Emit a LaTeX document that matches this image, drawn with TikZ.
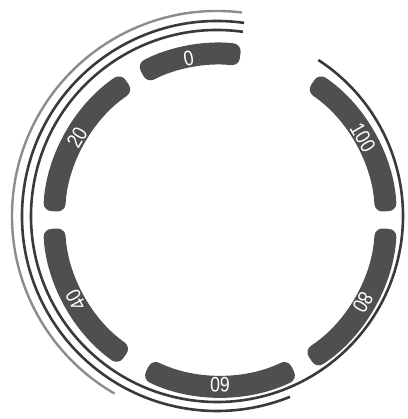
\documentclass[tikz,border=0pt]{standalone}
\usepackage{fontspec}
\setmainfont{Liberation Sans}
\newfontfamily\narrowlab[FakeStretch=0.85]{Liberation Sans}
\definecolor{segc}{HTML}{4F4F4F}
\definecolor{arcc}{HTML}{3A3A3A}
\definecolor{arcl}{HTML}{8C8C8C}
\begin{document}
\begin{tikzpicture}[x=1pt,y=1pt,
  seg/.style={fill=segc, rounded corners=8pt},
  lab/.style={text=white, font=\narrowlab\fontsize{21}{21}\selectfont, inner sep=0pt},
  arcline/.style={draw=arcc, line width=2.6pt},
  arcfaint/.style={draw=arcl, line width=2.4pt}]
\useasboundingbox (0,0) rectangle (407,419);
% ring of segments
\begin{scope}[shift={(220,199)}]
\foreach \a/\b/\m/\t/\n in {83/118/101/0/l0, 124/177/150/20/l20, 183/235/209/40/l40,
                            244/296/270/60/l60, 303/357/330/80/l80, 3/56/30/100/l100}{
  \fill[seg] (\a:155) arc[start angle=\a, end angle=\b, radius=155]
     -- (\b:177) arc[start angle=\b, end angle=\a, radius=177] -- cycle;
  \node[lab, rotate=\m-90] (\n) at (\m:165) {\t};
}
\end{scope}
% outer arcs
\begin{scope}[shift={(217,203)}]
\draw[arcfaint] (83:205) arc[start angle=83, end angle=240, radius=205];
\draw[arcline] (82:195) arc[start angle=82, end angle=292, radius=195];
\draw[arcline] (82:186) arc[start angle=82, end angle=417, radius=186];
\end{scope}
\end{tikzpicture}
\end{document}
